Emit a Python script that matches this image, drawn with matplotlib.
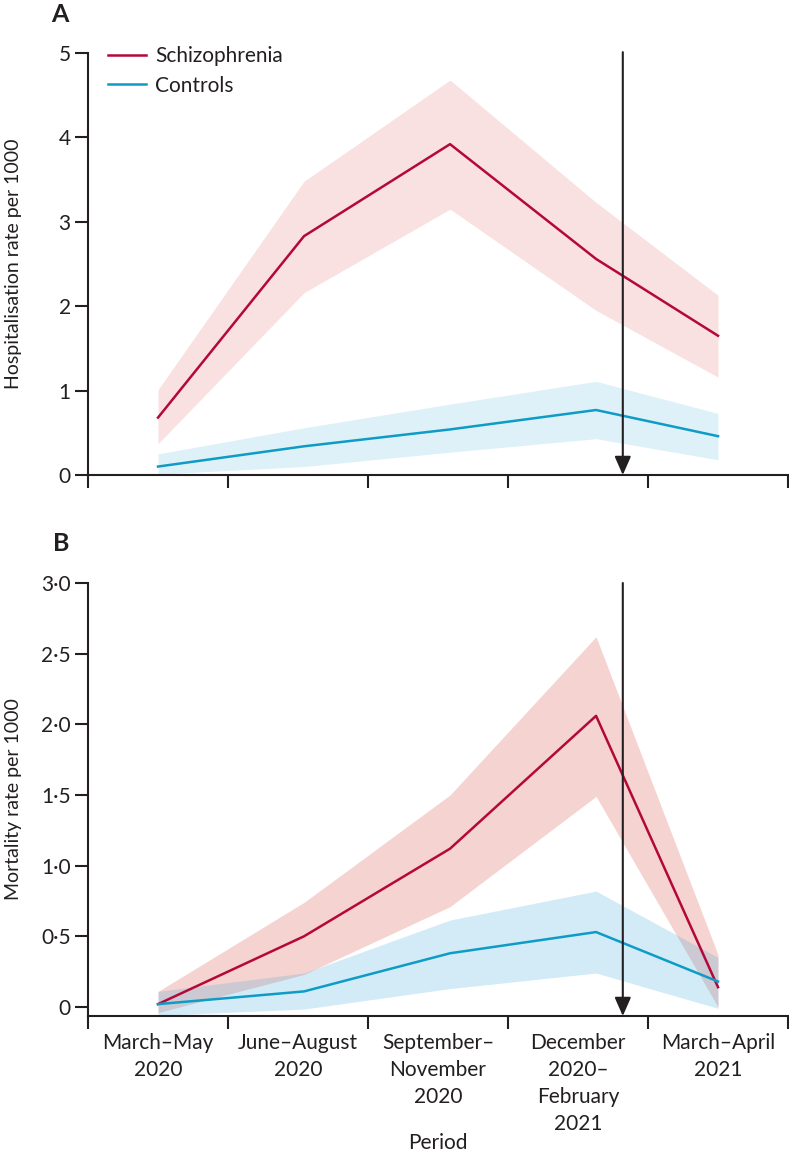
import matplotlib
matplotlib.use("Agg")
import matplotlib.pyplot as plt
from matplotlib.ticker import FixedLocator, FixedFormatter

plt.rcParams['font.family'] = ['Lato', 'DejaVu Sans']
plt.rcParams['font.size'] = 15

# Periods (category labels) and where each period's estimate sits on the time axis
PERIODS = ["March–May\n2020", "June–August\n2020", "September–\nNovember\n2020",
           "December\n2020–\nFebruary\n2021", "March–April\n2021"]
X_POS = [0, 1.043, 2.086, 3.129, 4]
ARROW_X = 3.32

# Panel A - hospitalisation rate per 1000
HOSP_SCZ = [0.68, 2.83, 3.92, 2.56, 1.65]
HOSP_SCZ_LO = [0.37, 2.16, 3.15, 1.95, 1.16]
HOSP_SCZ_HI = [1.01, 3.48, 4.68, 3.23, 2.13]
HOSP_CTL = [0.10, 0.34, 0.54, 0.77, 0.46]
HOSP_CTL_LO = [0.01, 0.10, 0.27, 0.43, 0.18]
HOSP_CTL_HI = [0.25, 0.56, 0.84, 1.11, 0.73]

# Panel B - mortality rate per 1000
MORT_SCZ = [0.02, 0.50, 1.12, 2.06, 0.14]
MORT_SCZ_LO = [-0.04, 0.23, 0.71, 1.49, 0.00]
MORT_SCZ_HI = [0.11, 0.74, 1.50, 2.62, 0.37]
MORT_CTL = [0.02, 0.11, 0.38, 0.53, 0.18]
MORT_CTL_LO = [-0.06, -0.015, 0.13, 0.24, -0.01]
MORT_CTL_HI = [0.11, 0.24, 0.615, 0.82, 0.35]

A_TICKS = [0, 1, 2, 3, 4, 5]
A_LABELS = ["0", "1", "2", "3", "4", "5"]
B_TICKS = [0, 0.5, 1.0, 1.5, 2.0, 2.5, 3.0]
B_LABELS = ["0", "0·5", "1·0", "1·5", "2·0", "2·5", "3·0"]

RED = '#b5083a'
BLUE = '#0e9cc6'
INK = '#231f20'

fig = plt.figure(figsize=(7.89, 11.52), dpi=100)
axA = fig.add_axes([88 / 789, 1 - 475 / 1152, 700 / 789, 422 / 1152])
axB = fig.add_axes([88 / 789, 1 - 1016 / 1152, 700 / 789, 433 / 1152])


def style_axis(ax, yticks, ylabels, ylim, ylabel):
    ax.set_xlim(-0.5, 4.5)
    ax.set_ylim(*ylim)
    for side in ['top', 'right']:
        ax.spines[side].set_visible(False)
    for side in ['left', 'bottom']:
        ax.spines[side].set_linewidth(1.5)
        ax.spines[side].set_color(INK)
    ax.spines['left'].set_bounds(ylim[0], yticks[-1])
    ax.set_yticks(yticks)
    ax.set_yticklabels(ylabels)
    # boundaries between periods carry the tick marks
    ax.xaxis.set_major_locator(FixedLocator([-0.5, 0.5, 1.5, 2.5, 3.5, 4.5]))
    ax.xaxis.set_major_formatter(FixedFormatter([""] * 6))
    ax.tick_params(axis='x', which='major', direction='out', length=9, width=1.5, color=INK)
    ax.tick_params(axis='y', direction='out', length=9.5, width=1.5, color=INK,
                   labelcolor=INK, pad=3, labelsize=15)
    ax.set_ylabel(ylabel, color=INK, fontsize=14)
    ax.yaxis.set_label_coords(-0.094, 0.5)


# ---- Panel A
axA.fill_between(X_POS, HOSP_SCZ_LO, HOSP_SCZ_HI, color='#e56a6a', alpha=0.2, lw=0)
axA.fill_between(X_POS, HOSP_CTL_LO, HOSP_CTL_HI, color='#4fb3dc', alpha=0.18, lw=0)
l1, = axA.plot(X_POS, HOSP_SCZ, color=RED, lw=1.8, label='Schizophrenia')
l2, = axA.plot(X_POS, HOSP_CTL, color=BLUE, lw=1.8, label='Controls')
style_axis(axA, A_TICKS, A_LABELS, (0, 5), 'Hospitalisation rate per 1000')
axA.annotate('', xy=(ARROW_X, 0), xytext=(ARROW_X, 5.01),
             arrowprops=dict(arrowstyle='-|>,head_length=0.75,head_width=0.33',
                             lw=1.5, color=INK, shrinkA=0, shrinkB=0),
             annotation_clip=False)
axA.legend(handles=[l1, l2], loc='upper left', bbox_to_anchor=(0.029, 1.016),
           frameon=False, handlelength=1.8, handletextpad=0.45,
           labelspacing=0.45, borderpad=0, borderaxespad=0, fontsize=15,
           labelcolor=INK)

# ---- Panel B
axB.fill_between(X_POS, MORT_SCZ_LO, MORT_SCZ_HI, color='#d9534a', alpha=0.25, lw=0)
axB.fill_between(X_POS, MORT_CTL_LO, MORT_CTL_HI, color='#3ba6d6', alpha=0.22, lw=0)
axB.plot(X_POS, MORT_SCZ, color=RED, lw=1.8)
axB.plot(X_POS, MORT_CTL, color=BLUE, lw=1.8)
style_axis(axB, B_TICKS, B_LABELS, (-0.064, 3.0), 'Mortality rate per 1000')
axB.annotate('', xy=(ARROW_X, -0.064), xytext=(ARROW_X, 3.0),
             arrowprops=dict(arrowstyle='-|>,head_length=0.75,head_width=0.33',
                             lw=1.5, color=INK, shrinkA=0, shrinkB=0),
             annotation_clip=False)
axB.xaxis.set_minor_locator(FixedLocator(range(len(PERIODS))))
axB.xaxis.set_minor_formatter(FixedFormatter(PERIODS))
axB.tick_params(axis='x', which='minor', length=0, pad=12, labelsize=15, labelcolor=INK)
for lab in axB.get_xticklabels(minor=True):
    lab.set_linespacing(1.45)
    lab.set_va('top')
fig.text(438 / 789, 1 - 1143 / 1152, 'Period', ha='center', va='center',
         fontsize=15, color=INK)

# panel letters
fig.text(51 / 789, 1 - 14 / 1152, 'A', fontsize=18, fontweight='bold', color=INK,
         va='center', ha='left')
fig.text(53 / 789, 1 - 543 / 1152, 'B', fontsize=18, fontweight='bold', color=INK,
         va='center', ha='left')

fig.savefig('out.png', dpi=100)
